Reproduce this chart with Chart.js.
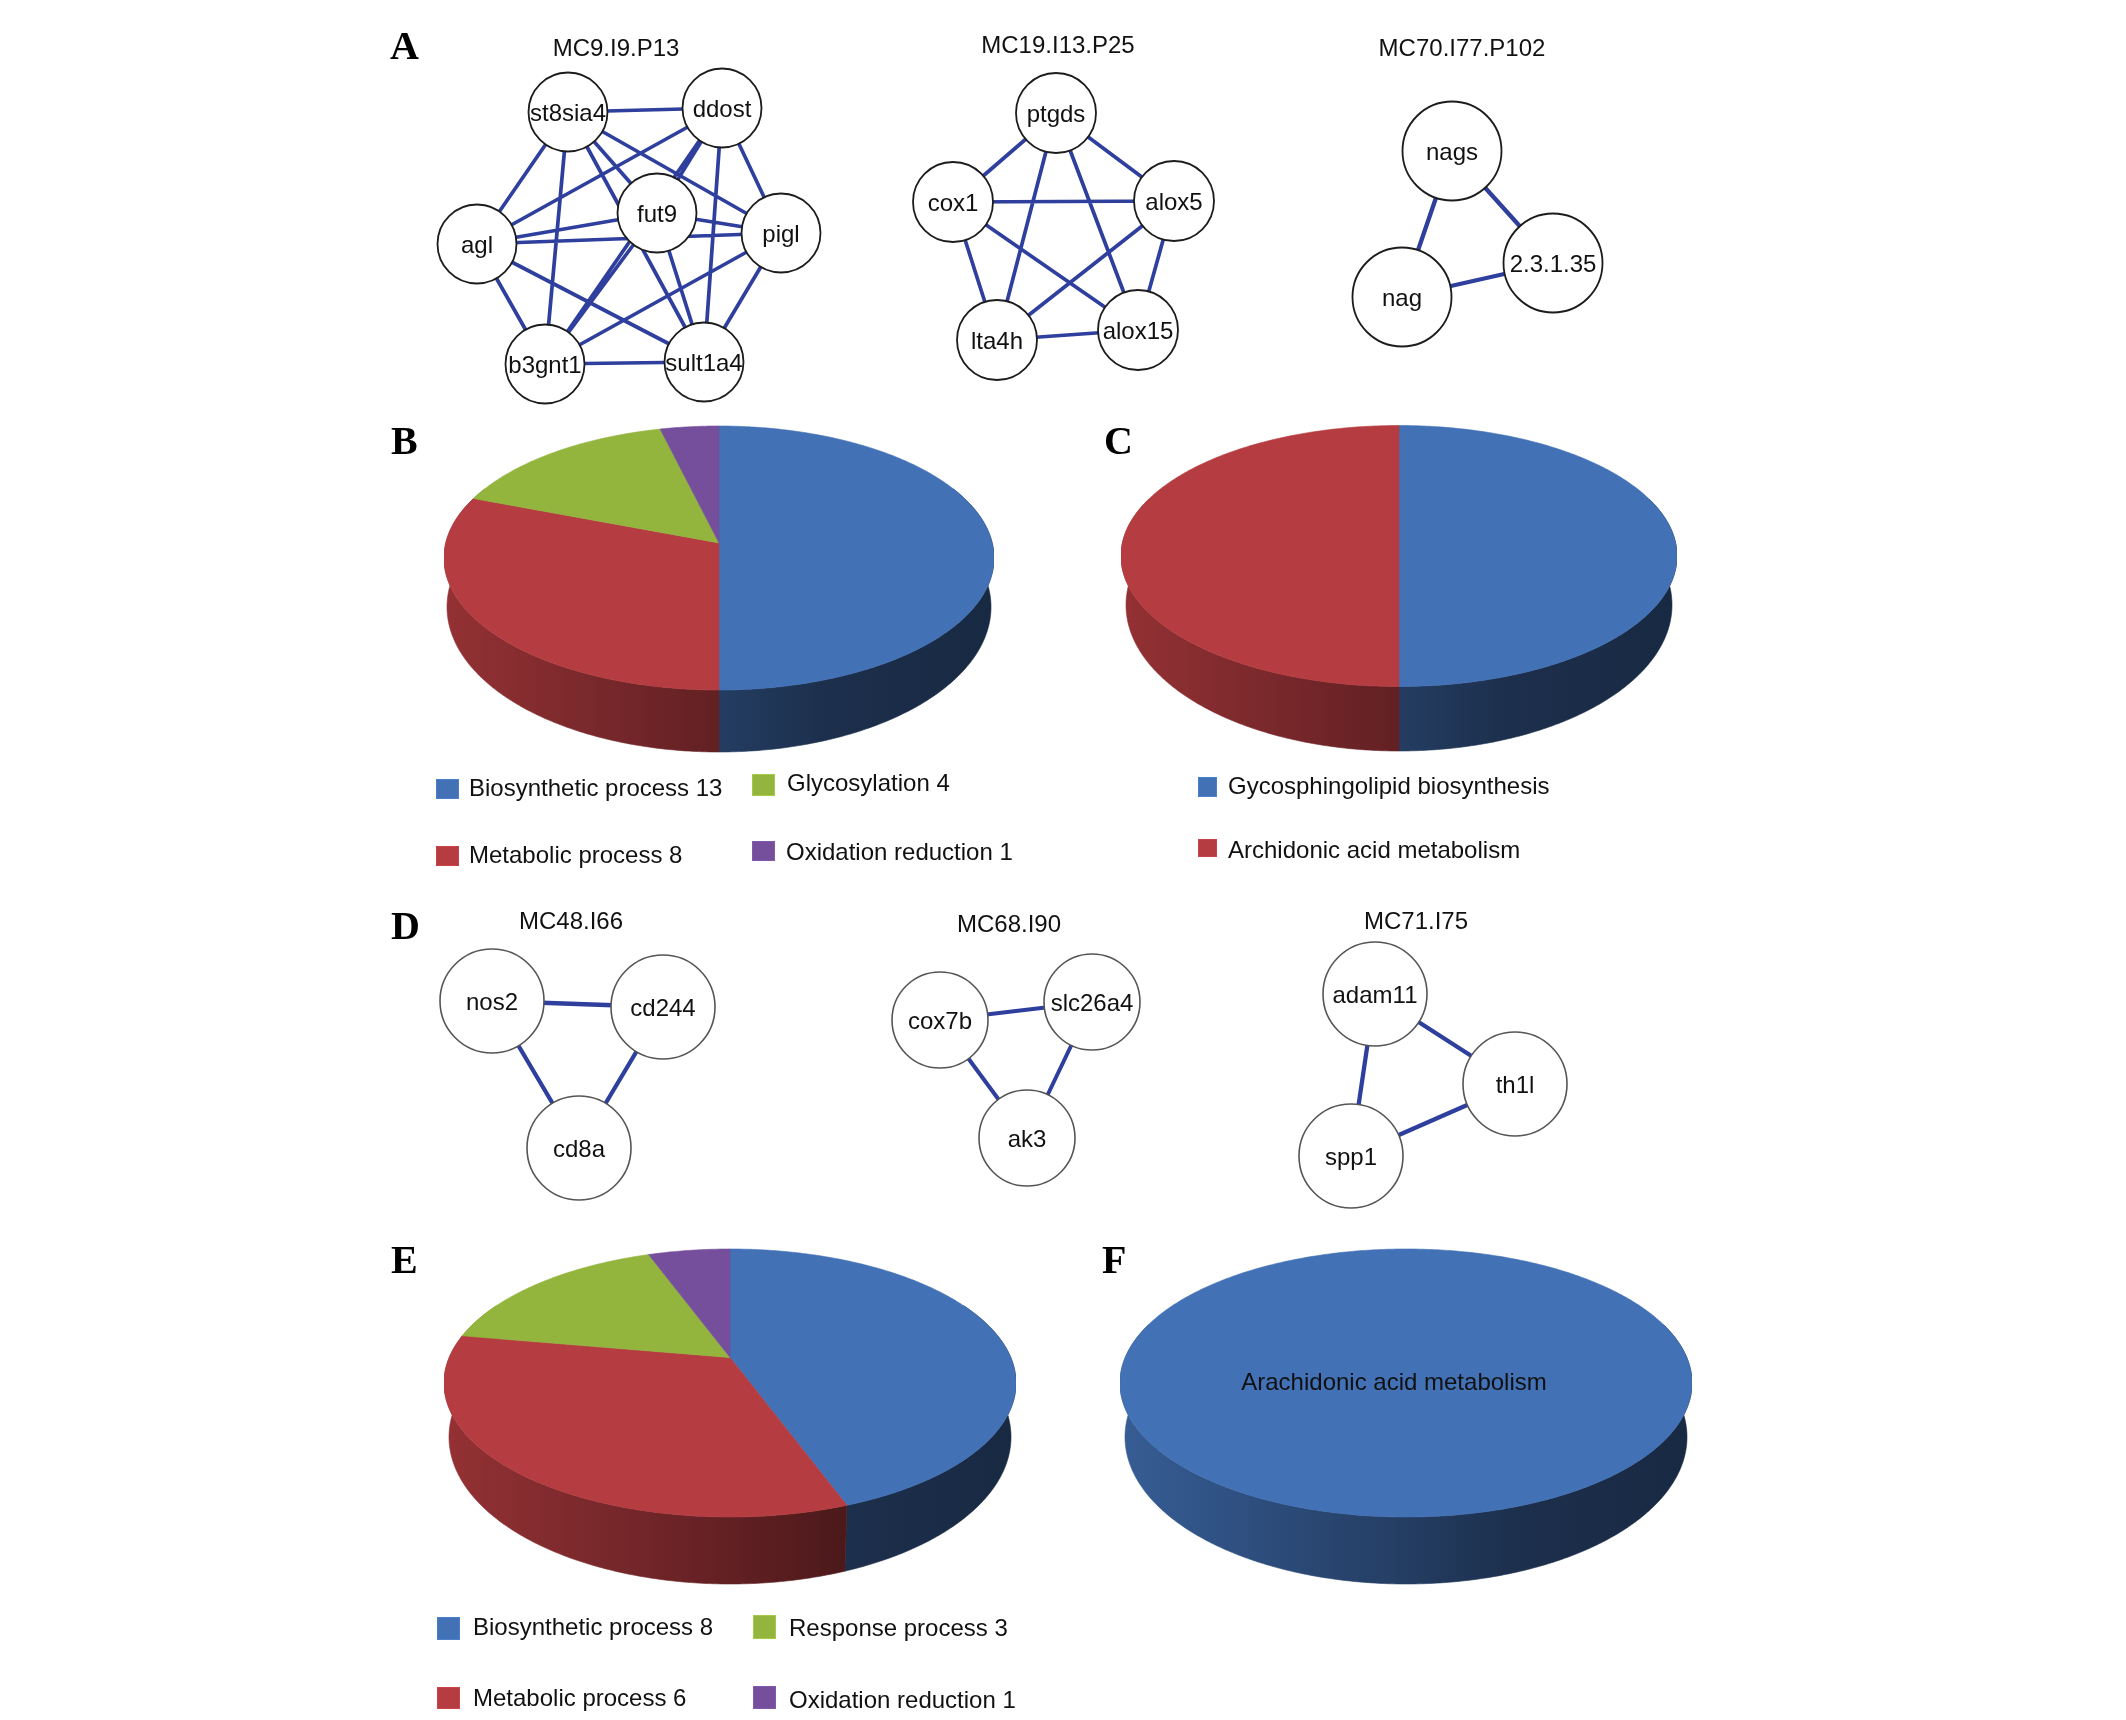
<!DOCTYPE html>
<html>
<head>
<meta charset="utf-8">
<title>Modules and pathways</title>
<script src="https://cdn.jsdelivr.net/npm/chart.js@4"></script>
<style>
html,body{margin:0;padding:0;background:#fff;}
#fig{position:relative;width:2126px;height:1720px;overflow:hidden;background:#fff;}
canvas{position:absolute;}
.t{position:absolute;white-space:nowrap;line-height:1;color:#111;font-family:"Liberation Sans",Arial,sans-serif;font-size:24px;}
.l{font-family:"Liberation Serif","Times New Roman",serif;font-weight:bold;font-size:40px;color:#000;}
.box{position:absolute;box-sizing:border-box;}
</style>
</head>
<body>
<div id="fig"></div>
<script>
// ---------- Network data ----------
const mc9Names  = ["st8sia4","ddost","agl","fut9","pigl","b3gnt1","sult1a4"];
const mc9X      = [568,722,477,657,781,545,704];
const mc9Y      = [112,108,244,213,233,364,362];
const mc9Edges  = [["st8sia4","ddost"],["st8sia4","agl"],["st8sia4","fut9"],["st8sia4","pigl"],["st8sia4","b3gnt1"],["st8sia4","sult1a4"],
                   ["ddost","agl"],["ddost","fut9"],["ddost","pigl"],["ddost","b3gnt1"],["ddost","sult1a4"],
                   ["agl","fut9"],["agl","pigl"],["agl","b3gnt1"],["agl","sult1a4"],
                   ["fut9","pigl"],["fut9","b3gnt1"],["fut9","sult1a4"],
                   ["pigl","b3gnt1"],["pigl","sult1a4"],["b3gnt1","sult1a4"]];

const mc19Names = ["ptgds","cox1","alox5","alox15","lta4h"];
const mc19X     = [1056,953,1174,1138,997];
const mc19Y     = [113,202,201,330,340];
const mc19Edges = [["ptgds","cox1"],["ptgds","alox5"],["ptgds","lta4h"],["ptgds","alox15"],["cox1","alox5"],
                   ["cox1","lta4h"],["cox1","alox15"],["alox5","lta4h"],["alox5","alox15"],["lta4h","alox15"]];

const mc70Names = ["nags","2.3.1.35","nag"];
const mc70X     = [1452,1553,1402];
const mc70Y     = [151,263,297];
const mc70Edges = [["nags","2.3.1.35"],["nags","nag"],["nag","2.3.1.35"]];

const mc48Names = ["nos2","cd244","cd8a"];
const mc48X     = [492,663,579];
const mc48Y     = [1001,1007,1148];
const mc48Edges = [["nos2","cd244"],["nos2","cd8a"],["cd244","cd8a"]];

const mc68Names = ["cox7b","slc26a4","ak3"];
const mc68X     = [940,1092,1027];
const mc68Y     = [1020,1002,1138];
const mc68Edges = [["cox7b","slc26a4"],["cox7b","ak3"],["slc26a4","ak3"]];

const mc71Names = ["adam11","th1l","spp1"];
const mc71X     = [1375,1515,1351];
const mc71Y     = [994,1084,1156];
const mc71Edges = [["adam11","th1l"],["adam11","spp1"],["spp1","th1l"]];

// ---------- Pie data ----------
const bLabels = ["Biosynthetic process 13","Metabolic process 8","Glycosylation 4","Oxidation reduction 1"];
const bValues = [13,8,4,1];
const cLabels = ["Gycosphingolipid biosynthesis","Archidonic acid metabolism"];
const cValues = [1,1];
const eLabels = ["Biosynthetic process 8","Metabolic process 6","Response process 3","Oxidation reduction 1"];
const eValues = [8,6,3,1];
const fLabels = ["Arachidonic acid metabolism"];
const fValues = [1];
const pieColors = ["#4271B6","#B53C40","#93B53E","#754F9C"];

const EDGE = "#2E3F9E";
const fig = document.getElementById("fig");
function text(str,x,y,cls,align){
  const d=document.createElement("div");
  d.className="t "+(cls||"");
  d.textContent=str;
  d.style.left=x+"px";d.style.top=y+"px";
  d.style.transform=align==="left"?"translateY(-50%)":"translate(-50%,-50%)";
  fig.appendChild(d);return d;
}
function makeCanvas(l,t,w,h){
  const c=document.createElement("canvas");
  c.width=w;c.height=h;c.style.left=l+"px";c.style.top=t+"px";c.style.width=w+"px";c.style.height=h+"px";
  fig.appendChild(c);return c;
}

// ---------- 3D pie plugin: arcs' geometry comes from Chart.js, drawn in a perspective view ----------
function shade(hex,f){
  const n=parseInt(hex.slice(1),16);
  return `rgb(${Math.round((n>>16&255)*f)},${Math.round((n>>8&255)*f)},${Math.round((n&255)*f)})`;
}
const wallStops=[[0,.82],[.25,.68],[.5,.54],[.7,.42],[1,.36]];
const pie3d={
  id:"pie3d",
  beforeDatasetDraw(chart,args,o){
    const ctx=chart.ctx, arcs=chart.getDatasetMeta(0).data, colors=chart.data.datasets[0].backgroundColor;
    const a=o.lift, s=Math.sqrt(1-a*a);
    const proj=(th,cx,cy,rx,ry)=>{
      const u=Math.cos(th),v=Math.sin(th),D=1+a*v;
      return [cx+rx*u*s/D, cy+ry*(v+a)/D];
    };
    const lo=-0.45, hi=Math.PI+0.45;
    arcs.forEach((el,i)=>{
      const R=el.outerRadius, cx=el.x, cy=el.y, ry=R*o.tilt;
      const st=Math.max(el.startAngle,lo), en=Math.min(el.endAngle,hi);
      if(st>=en) return;
      const g=ctx.createLinearGradient(cx-R,0,cx+R,0);
      wallStops.forEach(p=>g.addColorStop(p[0],shade(colors[i],p[1])));
      ctx.save();ctx.beginPath();
      const n=Math.max(4,Math.ceil((en-st)*90));
      for(let k=0;k<=n;k++){const th=st+(en-st)*k/n,p=proj(th,cx,cy,R,ry);k?ctx.lineTo(p[0],p[1]):ctx.moveTo(p[0],p[1]);}
      for(let k=n;k>=0;k--){const th=st+(en-st)*k/n,p=proj(th,cx,cy+o.drop,R*o.wallRx,R*o.wallRy);ctx.lineTo(p[0],p[1]);}
      ctx.closePath();ctx.fillStyle=g;ctx.fill();ctx.strokeStyle=g;ctx.lineWidth=.6;ctx.stroke();ctx.restore();
    });
    arcs.forEach((el,i)=>{
      const R=el.outerRadius, cx=el.x, cy=el.y, ry=R*o.tilt;
      const st=el.startAngle,en=el.endAngle,n=Math.max(8,Math.ceil((en-st)*90));
      ctx.save();ctx.beginPath();
      const full=en-st>6.28;
      if(!full){ctx.moveTo(cx,cy+ry*a);}
      for(let k=0;k<=n;k++){const p=proj(st+(en-st)*k/n,cx,cy,R,ry);(k||!full)?ctx.lineTo(p[0],p[1]):ctx.moveTo(p[0],p[1]);}
      ctx.closePath();ctx.fillStyle=colors[i];ctx.fill();ctx.strokeStyle=colors[i];ctx.lineWidth=.6;ctx.stroke();ctx.restore();
    });
    return false;
  }
};
function pie(cx,cy,rx,labels,values,o){
  const c=makeCanvas(cx-rx,cy-rx,2*rx,2*rx);
  return new Chart(c,{
    type:"pie",
    data:{labels,datasets:[{data:values,backgroundColor:pieColors.slice(0,values.length),borderWidth:0}]},
    options:{responsive:false,animation:false,events:[],layout:{padding:0},
      plugins:{legend:{display:false},tooltip:{enabled:false},pie3d:o}},
    plugins:[pie3d]
  });
}
pie(718.5,558,275,bLabels,bValues,{tilt:132/275,lift:-0.114,drop:49,wallRx:272/275,wallRy:145/275});
pie(1399,556,278,cLabels,cValues,{tilt:130.5/278,lift:0,drop:49,wallRx:273/278,wallRy:146/278});
pie(730,1383,286,eLabels,eValues,{tilt:134/286,lift:-0.19,drop:54,wallRx:281/286,wallRy:147/286});
pie(1406,1383,286,fLabels,fValues,{tilt:134/286,lift:0,drop:54,wallRx:281/286,wallRy:147/286});

// ---------- Networks: one scatter chart over the whole figure ----------
const nets=[
 {names:mc9Names, xs:mc9X, ys:mc9Y, edges:mc9Edges, r:39.5,w:3.7,stroke:"#1c1c1c",bw:1.8},
 {names:mc19Names,xs:mc19X,ys:mc19Y,edges:mc19Edges,r:40,  w:3.7,stroke:"#1c1c1c",bw:1.8},
 {names:mc70Names,xs:mc70X,ys:mc70Y,edges:mc70Edges,r:49.5,w:4.3,stroke:"#1c1c1c",bw:1.8},
 {names:mc48Names,xs:mc48X,ys:mc48Y,edges:mc48Edges,r:52,  w:4.3,stroke:"#555555",bw:1.6},
 {names:mc68Names,xs:mc68X,ys:mc68Y,edges:mc68Edges,r:48,  w:4,  stroke:"#555555",bw:1.6},
 {names:mc71Names,xs:mc71X,ys:mc71Y,edges:mc71Edges,r:52,  w:4.3,stroke:"#555555",bw:1.6}
];
const netDatasets=[];
nets.forEach(n=>{
  const seg=[];
  n.edges.forEach(e=>{
    const a=n.names.indexOf(e[0]),b=n.names.indexOf(e[1]);
    seg.push({x:n.xs[a],y:n.ys[a]},{x:n.xs[b],y:n.ys[b]},{x:null,y:null});
  });
  netDatasets.push({data:seg,showLine:true,spanGaps:false,borderColor:EDGE,borderWidth:n.w,pointRadius:0,order:2});
  netDatasets.push({data:n.names.map((_,i)=>({x:n.xs[i],y:n.ys[i]})),showLine:false,pointRadius:n.r,
    pointBackgroundColor:"#fff",pointBorderColor:n.stroke,pointBorderWidth:n.bw,order:1});
});
const netChart=new Chart(makeCanvas(0,0,2126,1720),{
  type:"scatter",
  data:{datasets:netDatasets},
  options:{responsive:false,animation:false,events:[],layout:{padding:0,autoPadding:false},
    scales:{x:{type:"linear",min:0,max:2126,display:false},y:{type:"linear",min:0,max:1720,reverse:true,display:false}},
    plugins:{legend:{display:false},tooltip:{enabled:false}}}
});
nets.forEach((n,k)=>{
  const pts=netChart.getDatasetMeta(k*2+1).data;
  n.names.forEach((name,i)=>text(name,pts[i].x,pts[i].y+1));
});

// ---------- Titles, panel letters, legends ----------
[["MC9.I9.P13",616,48],["MC19.I13.P25",1058,45],["MC70.I77.P102",1462,48],
 ["MC48.I66",571,921],["MC68.I90",1009,924],["MC71.I75",1416,921]].forEach(t=>text(t[0],t[1],t[2]));
[["A",390,46],["B",391,441],["C",1104,441],["D",391,926],["E",391,1260],["F",1102,1260]].forEach(t=>text(t[0],t[1],t[2],"l","left"));

function legend(labels,items){
  labels.forEach((s,i)=>{
    const it=items[i];
    const b=document.createElement("div");b.className="box";
    b.style.cssText=`left:${it[0]}px;top:${it[1]}px;width:${it[2]}px;height:${it[3]}px;background:${pieColors[i]};border:1px solid ${shade(pieColors[i],1.12)}`;
    fig.appendChild(b);
    text(s,it[4],it[5],"","left");
  });
}
legend(bLabels,[[436,779,23,20,469,788],[436,846,23,20,469,855],[752,774,23,22,787,783],[752,841,23,20,786,852]]);
legend(cLabels,[[1198,777,19,20,1228,786],[1198,839,19,18,1228,850]]);
legend(eLabels,[[437,1617,23,23,473,1627],[437,1687,23,22,473,1698],[753,1615,23,24,789,1628],[753,1686,23,23,789,1700]]);
text(fLabels[0],1394,1382);
</script>
</body>
</html>
